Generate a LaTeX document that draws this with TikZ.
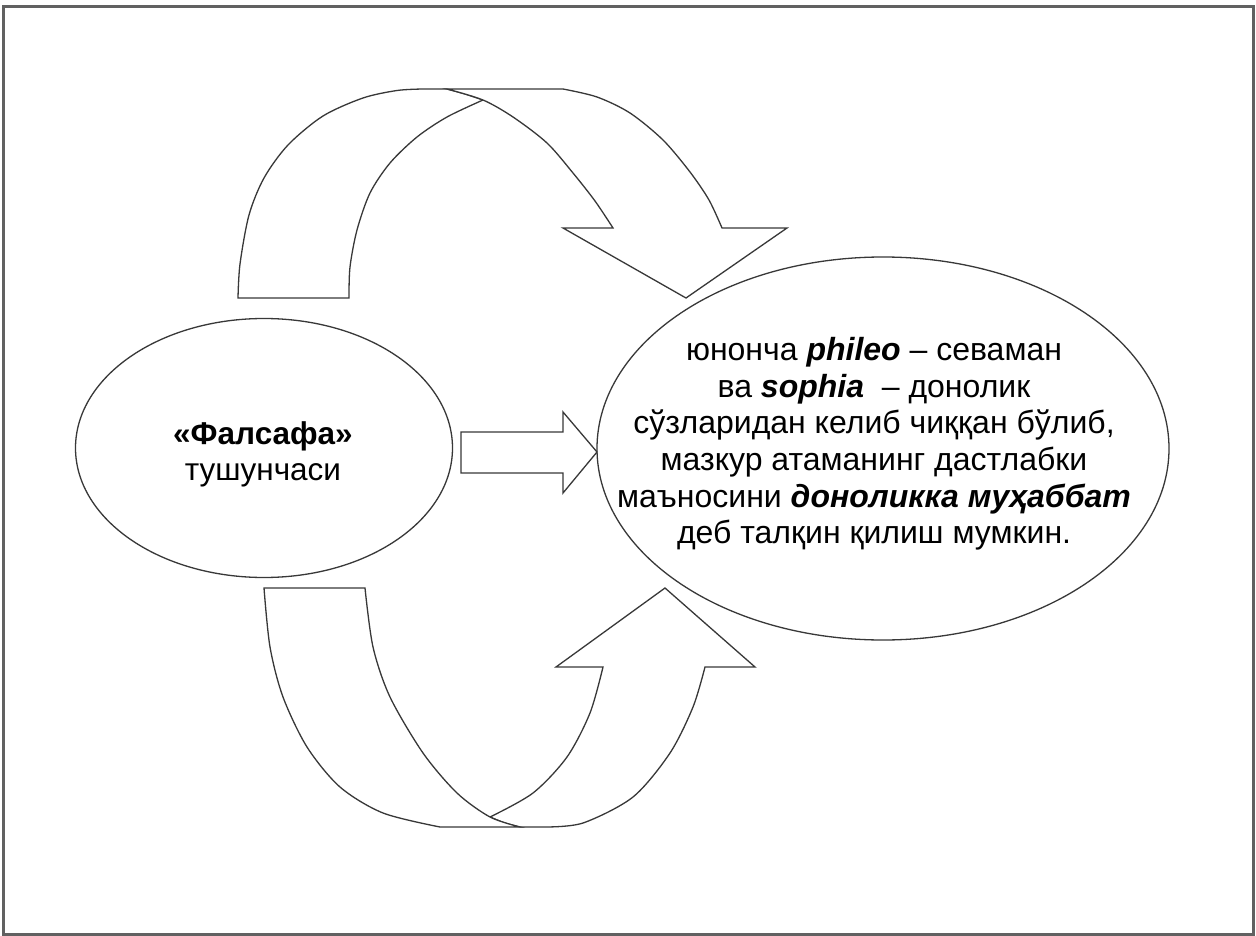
\documentclass[tikz,border=0pt]{standalone}
\usepackage{fontspec}
\setmainfont{Liberation Sans}
\usetikzlibrary{shapes.geometric}
\begin{document}
\begin{tikzpicture}[x=1pt,y=-1pt,
  outline/.style={draw=black!78, line width=1.3pt, fill=white, line join=miter},
  oval/.style={ellipse, outline, inner sep=0pt},
  bigtext/.style={font=\fontsize{31.5pt}{36pt}\selectfont, align=center, inner sep=0pt},
  bodytext/.style={font=\fontsize{32pt}{36.6pt}\selectfont, align=center, inner sep=0pt}]
\fill[white] (0,0) rectangle (1256,936);
\useasboundingbox (0,0) rectangle (1256,936);
\draw[line width=3pt, draw=black!62] (3,7) rectangle (1253,934);

% ellipses
\node[oval, minimum width=377pt, minimum height=259pt] (L) at (264,448) {};
\node[oval, minimum width=572pt, minimum height=383pt] (R) at (883,448.5) {};
\node[bigtext] (Lt) at (263,454) {\textbf{«Фалсафа»}\\тушунчаси};
\node[bodytext] (Rt) at (874,444) {юнонча \textbf{\textit{phileo}} – севаман\\
ва \textbf{\textit{sophia}}\ \ – донолик\\
сўзларидан келиб чиққан бўлиб,\\
мазкур атаманинг дастлабки\\
маъносини \textbf{\textit{доноликка муҳаббат}}\\
деб талқин қилиш мумкин.};

% straight block arrow
\coordinate (tip) at (597,452);
\draw[outline] (461,432) -- (563,432) -- (563,412) -- (tip) -- (563,493) -- (563,473) -- (461,473) -- cycle;

% top curved arrow: back band (tail)
\draw[outline] plot[smooth] coordinates {(238,298) (240,264) (249,215) (264,178) (288,145) (323,116) (363,98) (397,90.5) (423,89)}
  -- (447,89)
  -- plot[smooth] coordinates {(447,89) (465,94) (483,100)}
  -- plot[smooth] coordinates {(483,100) (447,117) (417,137) (390,163) (370,193) (357,230) (350,267) (349,298)}
  -- cycle;
% top curved arrow: front band (head)
\draw[outline] plot[smooth] coordinates {(447,89) (483,100) (513,117) (547,143) (573,173) (595,201) (613,228)}
  -- (563,228) -- (686,298) -- (787,228) -- (722,228)
  -- plot[smooth] coordinates {(722,228) (709,200) (690,172) (663,140) (630,113) (597,97) (563,89)}
  -- cycle;

% bottom curved arrow: back band (head)
\draw[outline] plot[smooth] coordinates {(490,817) (533,793) (567,757) (590,713) (603,667)}
  -- (556,667) -- (665,588) -- (755,667) -- (705,667)
  -- plot[smooth] coordinates {(705,667) (693,707) (670,753) (633,797) (583,823) (545,827)}
  -- (520,827)
  -- plot[smooth] coordinates {(520,827) (505,823) (490,817)}
  -- cycle;
% bottom curved arrow: front band (tail)
\draw[outline] (264,588) -- (365,588)
  -- plot[smooth] coordinates {(365,588) (373,647) (390,697) (423,753) (457,793) (490,817) (520,827)}
  -- (440,827)
  -- plot[smooth] coordinates {(440,827) (383,813) (340,787) (307,747) (283,697) (270,647) (264,588)}
  -- cycle;
\end{tikzpicture}
\end{document}
